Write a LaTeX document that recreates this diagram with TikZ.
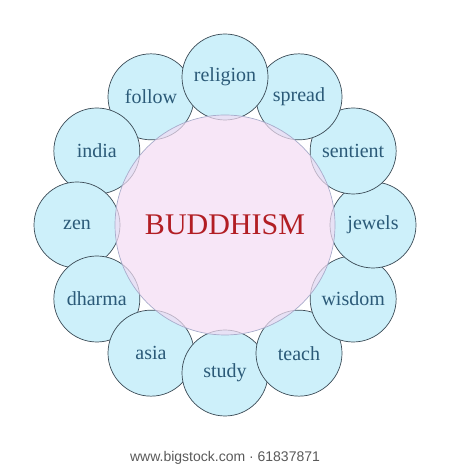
\documentclass[tikz,border=0pt]{standalone}
\usepackage{fontspec}
\setmainfont{Liberation Serif}
\setsansfont{Liberation Sans}
\usetikzlibrary{positioning}
\definecolor{petalfill}{HTML}{CDF0FA}
\definecolor{petalline}{HTML}{3A4A55}
\definecolor{wordblue}{HTML}{2B5A78}
\definecolor{hubfill}{HTML}{F3DCF3}
\definecolor{hubline}{HTML}{A8ACCB}
\definecolor{titlered}{HTML}{B21E24}

\begin{document}
\begin{tikzpicture}[
  x=1pt,y=1pt,
  petal/.style={circle,draw=petalline,line width=0.7pt,fill=petalfill,
    minimum size=86pt,inner sep=0pt,text=wordblue,font=\fontsize{20}{22}\selectfont},
  hub/.style={circle,draw=hubline,line width=0.7pt,fill=hubfill,
    fill opacity=0.7,text opacity=1,minimum size=220pt,inner sep=0pt},
  stamp/.style={text=black!65,font=\sffamily\fontsize{14}{16}\selectfont}
]
\useasboundingbox (0,0) rectangle (450,470);
\coordinate (mid) at (225,245);

% petals, each one laid over the one before it
\foreach \word [count=\i] in {follow,india,zen,dharma,asia,study,
    teach,wisdom,jewels,sentient,spread,religion}
  \node[petal] (\word) at ([shift={({90+30*\i}:148)}]mid) {\word};

\node[hub] (buddhism) at (mid)
  {\textcolor{titlered}{\fontsize{30}{32}\selectfont BUDDHISM}};

\node[stamp] (credit) at (225,12) {www.bigstock.com · 61837871};
\end{tikzpicture}
\end{document}
